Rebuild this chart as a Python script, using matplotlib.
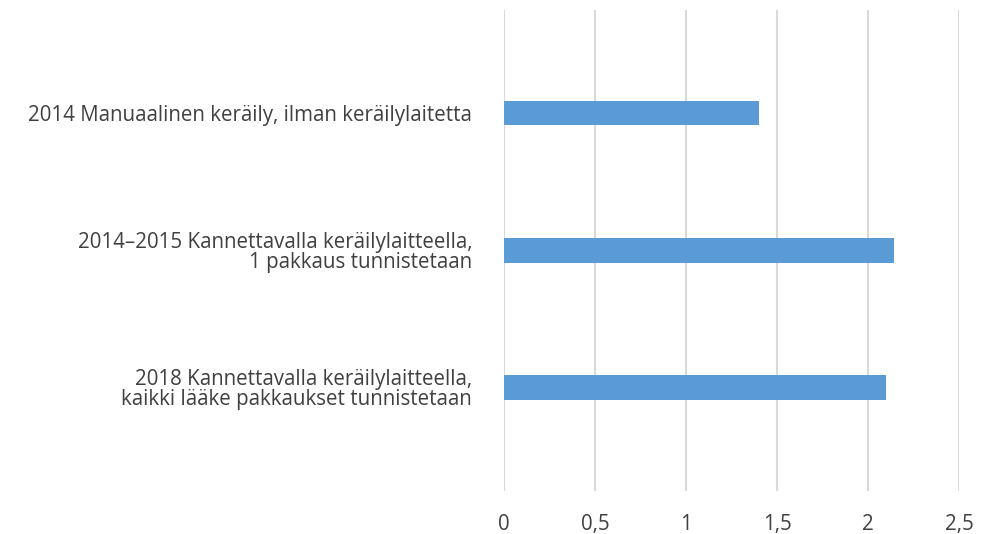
import numpy as np
import matplotlib.pyplot as plt
from matplotlib.ticker import FuncFormatter

# Data
categories = [
    "2014 Manuaalinen keräily, ilman keräilylaitetta",
    "2014\u20132015 Kannettavalla keräilylaitteella,\n1 pakkaus tunnistetaan",
    "2018 Kannettavalla keräilylaitteella,\nkaikki lääke pakkaukset tunnistetaan",
]
values = [1.4, 2.14, 2.1]
xticks = [0, 0.5, 1, 1.5, 2, 2.5]

plt.rcParams['font.family'] = ['Open Sans', 'DejaVu Sans']

fig = plt.figure(figsize=(9.99, 5.34), dpi=100)
ax = fig.add_axes([0.5045, 0.081, 0.4555, 0.9])

y = np.arange(len(categories))
ax.barh(y, values, height=0.18, color='#5b9bd5', zorder=3)

ax.set_xlim(0, 2.5)
ax.set_ylim(2.75, -0.75)
ax.set_xticks(xticks)
ax.xaxis.set_major_formatter(FuncFormatter(lambda v, p: f"{v:g}".replace('.', ',')))
ax.set_yticks(y)
ax.set_yticklabels(categories, fontsize=14.8, color='#404040', linespacing=0.95)

ax.grid(axis='x', color='#d9d9d9', linewidth=1.5, zorder=0)
for s in ax.spines.values():
    s.set_visible(False)
ax.tick_params(axis='y', length=0, pad=23)
ax.tick_params(axis='x', length=0, pad=17, labelsize=14.8, labelcolor='#404040')

fig.savefig('out.png', dpi=100)
